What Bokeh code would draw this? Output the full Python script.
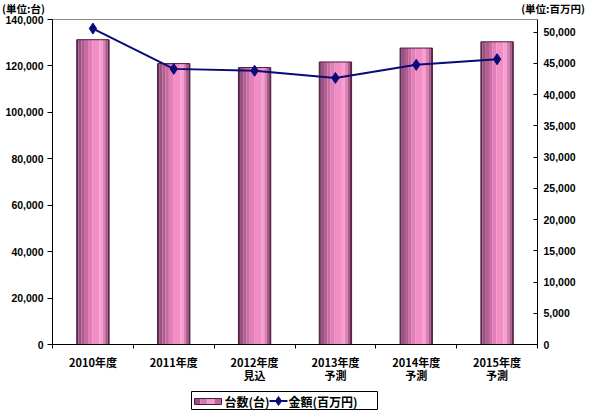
from bokeh.plotting import figure
from bokeh.layouts import column
from bokeh.models import (Range1d, LinearAxis, FixedTicker, NumeralTickFormatter,
                          ColumnDataSource, Div)
from bokeh.core.properties import value
from bokeh.embed import file_html
from bokeh.resources import INLINE

# ---- data ----
categories = ["2010年度", "2011年度", "2012年度\n見込", "2013年度\n予測", "2014年度\n予測", "2015年度\n予測"]
units = [131300, 121000, 119300, 121700, 127700, 130400]      # 台数(台)  left axis
amounts = [50550, 44100, 43800, 42650, 44750, 45650]          # 金額(百万円) right axis
left_ticks = [0, 20000, 40000, 60000, 80000, 100000, 120000, 140000]
right_ticks = [0, 5000, 10000, 15000, 20000, 25000, 30000, 35000, 40000, 45000, 50000]
unit_left = "(単位:台)"
unit_right = "(単位:百万円)"
legend_units = "台数(台)"
legend_amount = "金額(百万円)"

NUM_FONT = "Liberation Sans"
JP_FONT = "Noto Sans CJK JP"
BAR_EDGE = "#4a1e3c"
LINE_COL = "#0a0a78"

n = len(categories)
xc = [i + 0.5 for i in range(n)]

W = 602
DIV_H, H_MAIN, H_LEG = 14, 372, 27
FL, FR = 52, 537                    # frame left/right (px)
FT, FB = 19 - DIV_H, 345 - DIV_H    # frame top/bottom inside main figure

# ---- unit captions above the chart ----
caption = Div(width=W, height=DIV_H, styles={"margin": "0", "padding": "0"}, text=(
    f'<div style="position:relative;width:{W}px;height:{DIV_H}px;'
    f'font-family:\'{JP_FONT}\';font-weight:bold;font-size:10.5px;line-height:14px;color:black">'
    f'<span style="position:absolute;left:2px;top:2px;white-space:nowrap">{unit_left}</span>'
    f'<span style="position:absolute;right:17px;top:2px;white-space:nowrap">{unit_right}</span>'
    '</div>'))

p = figure(width=W, height=H_MAIN, x_range=Range1d(0, n), y_range=Range1d(0, 140000),
           output_backend="svg", toolbar_location=None,
           min_border_left=FL, min_border_right=W - FR, min_border_top=FT,
           min_border_bottom=H_MAIN - FB,
           background_fill_color="white", border_fill_color="white")
p.extra_y_ranges = {"amt": Range1d(0, 52000)}
p.grid.visible = False
p.outline_line_color = "#8c8c8c"
p.outline_line_width = 1

# ---- bars with cylinder-like shading ----
bw = 0.40
profile = [
    (0.00, 0.05, "#6a3058"),
    (0.05, 0.15, "#9a5280"),
    (0.15, 0.25, "#b25e90"),
    (0.25, 0.35, "#c96ca4"),
    (0.35, 0.48, "#e27eba"),
    (0.48, 0.70, "#f28ec6"),
    (0.70, 0.80, "#f7a0d0"),
    (0.80, 0.88, "#de7eb6"),
    (0.88, 0.95, "#ae5a8c"),
    (0.95, 1.00, "#6a3058"),
]
bar_src = ColumnDataSource(dict(x=xc, top=units))
for a, b, col in profile:
    off = -bw / 2 + (a + b) / 2 * bw
    xs = [x + off for x in xc]
    p.vbar(x=xs, top=units, width=(b - a) * bw * 1.02, bottom=0,
           fill_color=col, line_color=None)
p.vbar(x="x", top="top", width=bw, bottom=0, source=bar_src,
       fill_color=None, line_color=BAR_EDGE, line_width=1)

# ---- line ----
p.line(xc, amounts, y_range_name="amt", line_color=LINE_COL, line_width=2)
p.scatter(xc, amounts, y_range_name="amt", marker="diamond", size=11,
          fill_color=LINE_COL, line_color=LINE_COL)

# ---- axes ----
xa = p.xaxis[0]
xa.ticker = FixedTicker(ticks=xc, minor_ticks=list(range(n + 1)))
xa.major_label_overrides = {x: c for x, c in zip(xc, categories)}
xa.major_tick_out = 0
xa.major_tick_in = 0
xa.minor_tick_out = 4
xa.minor_tick_in = 0
xa.minor_tick_line_color = "black"
xa.axis_line_color = "black"
xa.major_label_standoff = 5
xa.major_label_text_font = JP_FONT
xa.major_label_text_font_style = "bold"
xa.major_label_text_font_size = "11px"
xa.major_label_text_color = "black"
xa.major_label_text_line_height = 0.85

ya = p.yaxis[0]
ya.ticker = FixedTicker(ticks=left_ticks, minor_ticks=[])
ya.formatter = NumeralTickFormatter(format="0,0")
ya.major_tick_out = 5
ya.major_tick_in = 0
ya.major_label_standoff = 4
ya.major_label_text_font = NUM_FONT
ya.major_label_text_font_style = "bold"
ya.major_label_text_font_size = "10.5px"
ya.major_label_text_color = "black"
ya.axis_line_color = "black"

ra = LinearAxis(y_range_name="amt", ticker=FixedTicker(ticks=right_ticks, minor_ticks=[]),
                formatter=NumeralTickFormatter(format="0,0"))
ra.major_tick_out = 0
ra.major_tick_in = 4
ra.major_label_standoff = 6
ra.major_label_text_font = NUM_FONT
ra.major_label_text_font_style = "bold"
ra.major_label_text_font_size = "10.5px"
ra.major_label_text_color = "black"
ra.axis_line_color = "black"
p.add_layout(ra, "right")

# ---- legend strip (x in page px, since frames align; y downward) ----
lg = figure(width=W, height=H_LEG, x_range=Range1d(FL, FR), y_range=Range1d(H_LEG, 0),
            output_backend="svg", toolbar_location=None,
            min_border_left=FL, min_border_right=W - FR,
            min_border_top=0, min_border_bottom=0,
            background_fill_color="white", border_fill_color="white")
lg.axis.visible = False
lg.grid.visible = False
lg.outline_line_color = None
lg.quad(left=[191], right=[377], top=[5], bottom=[23],
        fill_color="white", line_color="black", line_width=1)
lg.quad(left=[194, 200, 207, 214], right=[200, 207, 214, 221],
        top=[12] * 4, bottom=[18] * 4,
        fill_color=["#9a5280", "#d27ab0", "#f29ccc", "#b8689a"], line_color=None)
lg.quad(left=[194], right=[221], top=[12], bottom=[18],
        fill_color=None, line_color=BAR_EDGE, line_width=1)
lg.text(x=[224], y=[14.5], text=[legend_units], text_font=value(JP_FONT),
        text_font_style="bold", text_font_size="12px", text_baseline="middle",
        text_align="left", text_color="black")
lg.line(x=[269, 287], y=[14.5, 14.5], line_color=LINE_COL, line_width=2)
lg.scatter(x=[278], y=[14.5], marker="diamond", size=9,
           fill_color=LINE_COL, line_color=LINE_COL)
lg.text(x=[288], y=[14.5], text=[legend_amount], text_font=value(JP_FONT),
        text_font_style="bold", text_font_size="12px", text_baseline="middle",
        text_align="left", text_color="black")

layout = column(caption, p, lg, spacing=0)
open("out.html", "w").write(file_html(layout, INLINE))
